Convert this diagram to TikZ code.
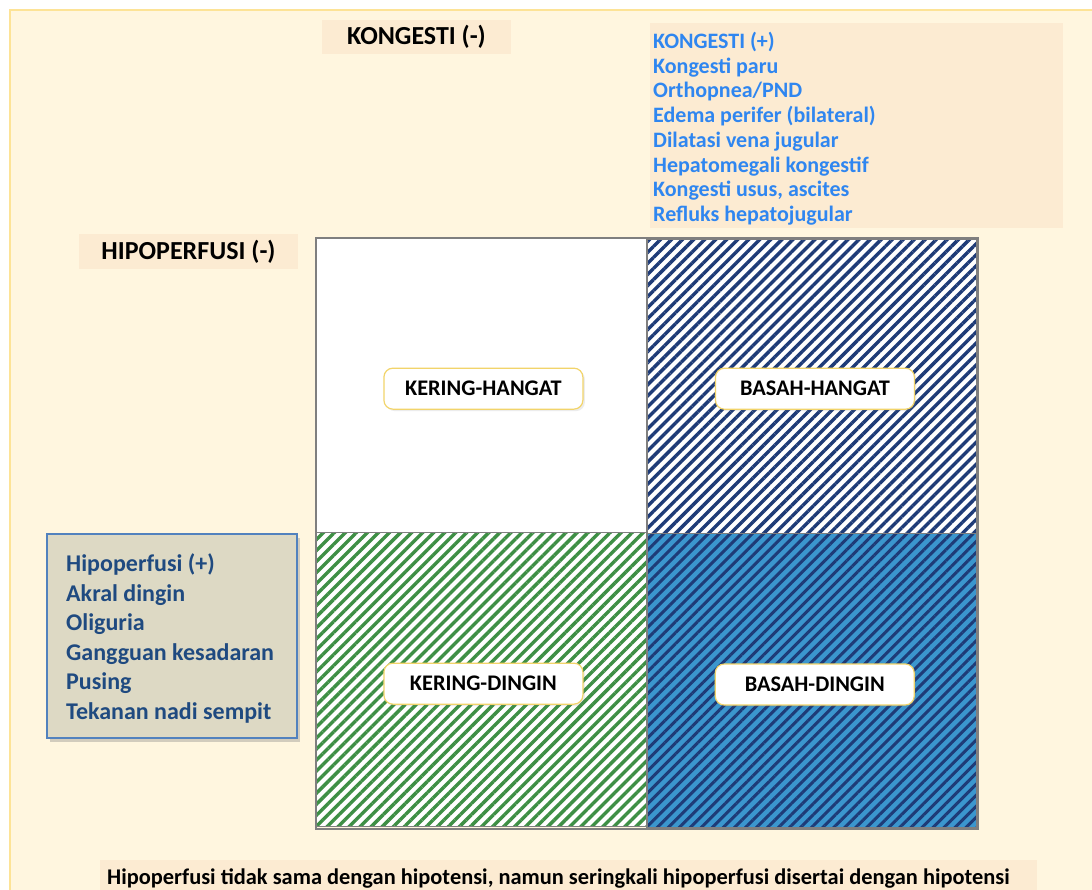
\documentclass[tikz,border=0pt]{standalone}
\usepackage{fontspec}
\setmainfont{Carlito}
\usetikzlibrary{positioning}
\usetikzlibrary{patterns.meta}
\usetikzlibrary{shadows}

\definecolor{panelbg}{HTML}{FFF6DF}
\definecolor{panelline}{HTML}{FDE396}
\definecolor{tagbg}{HTML}{FCEBD2}
\definecolor{congblue}{HTML}{2F86F0}
\definecolor{symbg}{HTML}{DDD9C4}
\definecolor{symline}{HTML}{5282BE}
\definecolor{symtext}{HTML}{1F4A80}
\definecolor{gridline}{HTML}{7F7F7F}
\definecolor{navy}{HTML}{1E3B77}
\definecolor{wetblue}{HTML}{3B96CE}
\definecolor{drygreen}{HTML}{3E8F45}
\definecolor{quadline}{HTML}{F2D46A}

\begin{document}
\begin{tikzpicture}[x=1pt,y=-1pt]
\tikzset{tag/.style={fill=tagbg, inner sep=0pt, font=\bfseries\fontsize{26}{30}\selectfont}}
\tikzset{cell/.style={draw=gridline, line width=1.3pt, minimum width=329.5pt, minimum height=294pt, inner sep=0pt, anchor=north west}}
\tikzset{quad/.style={draw=quadline, fill=white, line width=1.2pt, rounded corners=9pt, minimum width=199pt, minimum height=41pt, inner sep=0pt, font=\bfseries\fontsize{22.3}{24}\selectfont, drop shadow={shadow xshift=2pt, shadow yshift=-2pt, opacity=0.15}}}
\tikzset{stripes/.style={pattern={Lines[angle=45,distance=7.8pt,line width=#1]}}}
\useasboundingbox (0,0) rectangle (1092,889);
\fill[white] (0,0) rectangle (1092,889);
\draw[fill=panelbg, draw=panelline, line width=2pt] (10,10) rectangle (1100,900);
% axis tags
\node[tag, minimum width=189pt, minimum height=34pt] (congneg) at (416.5,37) {KONGESTI (-)};
\node[tag, minimum width=219pt, minimum height=35pt] (perfneg) at (188.5,251.5) {HIPOPERFUSI (-)};
\node[tag, anchor=north west, minimum width=413pt, minimum height=205pt] (congpos) at (650,23) {};
\node[anchor=west, inner sep=0pt, align=left, text=congblue, font=\bfseries\fontsize{22}{24.7}\selectfont] (conglist) at ([xshift=3pt,yshift=-3pt]congpos.west) {KONGESTI (+)\\Kongesti paru\\Orthopnea/PND\\Edema perifer (bilateral)\\Dilatasi vena jugular\\Hepatomegali kongestif\\Kongesti usus, ascites\\Refluks hepatojugular};
% quadrants
\node[cell, fill=white] (kh) at (316,238) {};
\node[cell, preaction={fill=white}, stripes=3.4pt, pattern color=navy] (bh) at (645.5,238) {};
\node[cell, preaction={fill=white}, stripes=3.4pt, pattern color=drygreen] (kd) at (316,532) {};
\node[cell, preaction={fill=wetblue}, stripes=3pt, pattern color=navy] (bd) at (645.5,532) {};
\draw[gridline, line width=1.3pt] (kh.north west) rectangle (bd.south east);
\node[quad] (khlabel) at ([xshift=2pt,yshift=-3pt]kh.center) {KERING-HANGAT};
\node[quad] (bhlabel) at ([xshift=3pt,yshift=-2pt]bh.center) {BASAH-HANGAT};
\node[quad] (kdlabel) at ([xshift=2pt,yshift=-4pt]kd.center) {KERING-DINGIN};
\node[quad] (bdlabel) at ([xshift=3pt,yshift=-4pt]bd.center) {BASAH-DINGIN};
% hipoperfusi signs
\node[anchor=north west, fill=symbg, draw=symline, line width=1.5pt, minimum width=250pt, minimum height=204pt, drop shadow={shadow xshift=3pt, shadow yshift=-4pt, opacity=0.35}] (perfpos) at (46,533) {};
\node[anchor=west, inner sep=0pt, align=left, text=symtext, font=\bfseries\fontsize{24}{29.5}\selectfont] (perflist) at ([xshift=20pt,yshift=-2.5pt]perfpos.west) {Hipoperfusi (+)\\Akral dingin\\Oliguria\\Gangguan kesadaran\\Pusing\\Tekanan nadi sempit};
% note
\node[tag, anchor=north west, minimum width=937pt, minimum height=40pt] (noteband) at (100,860) {};
\node[anchor=base west, inner sep=0pt, font=\bfseries\fontsize{22.4}{24}\selectfont] (note) at (107,884) {Hipoperfusi tidak sama dengan hipotensi, namun seringkali hipoperfusi disertai dengan hipotensi};
\end{tikzpicture}
\end{document}
